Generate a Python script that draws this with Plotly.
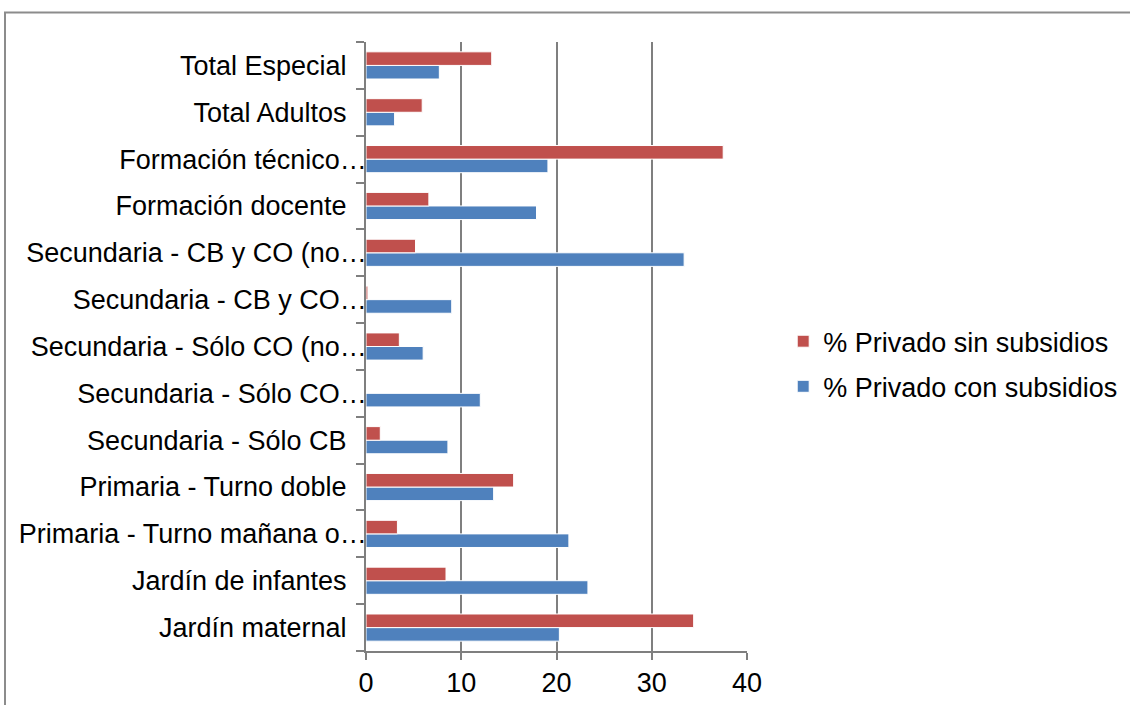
import plotly.graph_objects as go

categories = [
    "Jardín maternal",
    "Jardín de infantes",
    "Primaria - Turno mañana o…",
    "Primaria - Turno doble",
    "Secundaria - Sólo CB",
    "Secundaria - Sólo CO…",
    "Secundaria - Sólo CO (no…",
    "Secundaria - CB y CO…",
    "Secundaria - CB y CO (no…",
    "Formación docente",
    "Formación técnico…",
    "Total Adultos",
    "Total Especial",
]
sin_subsidios = [34.4, 8.4, 3.3, 15.5, 1.5, 0.0, 3.5, 0.2, 5.2, 6.6, 37.5, 5.9, 13.2]
con_subsidios = [20.3, 23.3, 21.3, 13.4, 8.6, 12.0, 6.0, 9.0, 33.4, 17.9, 19.1, 3.0, 7.7]
x_ticks = [0, 10, 20, 30, 40]

RED = "#C0504D"
BLUE = "#4F81BD"
FONT = "Liberation Sans, Arial, sans-serif"

# Excel leaves a little room after labels that are not truncated
tick_text = [c if c.endswith("…") else c + "\u2002\u2005" for c in categories]

fig = go.Figure()
fig.add_trace(go.Bar(
    y=categories, x=con_subsidios, orientation="h",
    name="% Privado con subsidios", legendrank=2, legendgroup="con",
    marker=dict(color=BLUE, line=dict(color="white", width=1)),
))
fig.add_trace(go.Bar(
    y=categories, x=sin_subsidios, orientation="h",
    name="% Privado sin subsidios", legendrank=1, legendgroup="sin",
    marker=dict(color=RED, line=dict(color="white", width=1)),
))

fig.update_layout(
    width=1130, height=705,
    margin=dict(l=366, r=383, t=42, b=54, autoexpand=False),
    paper_bgcolor="white", plot_bgcolor="white",
    barmode="group", bargap=0.42, bargroupgap=0.0,
    font=dict(family=FONT, size=27, color="black"),
    showlegend=True,
    legend=dict(
        x=1.095, xanchor="left", y=0.471, yanchor="middle",
        traceorder="grouped", tracegroupgap=7,
        font=dict(size=27),
        bgcolor="rgba(0,0,0,0)", itemwidth=30,
    ),
    xaxis=dict(
        range=[0, 40], tickvals=x_ticks, ticktext=[str(v) for v in x_ticks],
        showgrid=True, gridcolor="#7f7f7f", gridwidth=1.5,
        showline=True, linecolor="#7f7f7f", linewidth=1.5,
        ticks="outside", ticklen=7, tickcolor="#7f7f7f", tickwidth=1.5,
        zeroline=False, tickfont=dict(size=27),
    ),
    yaxis=dict(
        type="category", categoryorder="array", categoryarray=categories,
        tickmode="array", tickvals=categories, ticktext=tick_text,
        range=[-0.5, len(categories) - 0.5],
        showline=True, linecolor="#7f7f7f", linewidth=1.5,
        ticks="outside", ticklen=8, tickcolor="#7f7f7f", tickwidth=1.5,
        tickson="boundaries", showgrid=False,
        tickfont=dict(size=27), ticklabelstandoff=-8,
    ),
    shapes=[
        dict(type="rect", xref="paper", yref="paper",
             x0=(5 - 366) / 381, x1=(1200 - 366) / 381,
             y0=-(760 - 651) / 609, y1=1 + (42 - 12.5) / 609,
             line=dict(color="#8c8c8c", width=2), fillcolor="rgba(0,0,0,0)",
             layer="below"),
    ],
)

fig.write_html("out.html")
